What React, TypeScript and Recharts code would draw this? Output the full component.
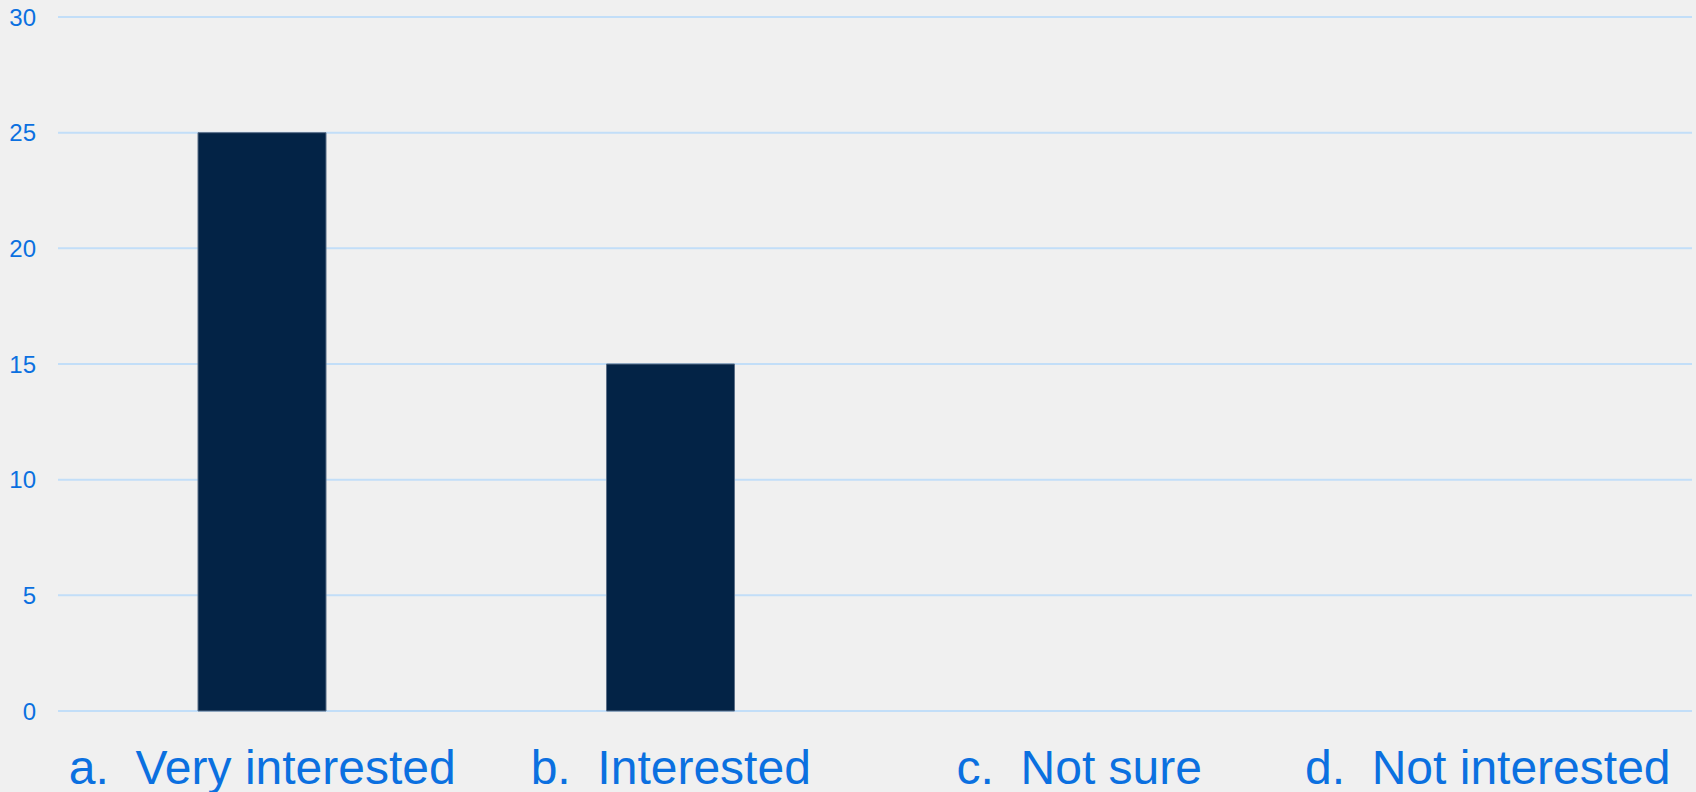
import React from "react";
import { BarChart, Bar, XAxis, YAxis, CartesianGrid } from "recharts";

const categories = [
  "a.\u00A0\u00A0Very interested",
  "b.\u00A0\u00A0Interested",
  "c.\u00A0\u00A0Not sure",
  "d.\u00A0\u00A0Not interested",
];
const responses = [25, 15, 0, 0];
const yTicks = [0, 5, 10, 15, 20, 25, 30];

const data = categories.map((name, i) => ({ name, value: responses[i] }));

const FONT = "'Liberation Sans', Arial, sans-serif";
const TEXT_BLUE = "#0b70e0";

export default function App() {
  return (
    <div
      style={{
        position: "absolute",
        left: 0,
        top: 0,
        width: 1696,
        height: 792,
        background: "#f0f0f0",
        overflow: "hidden",
      }}
    >
      <BarChart
        width={1696}
        height={792}
        data={data}
        margin={{ top: 17, right: 4, left: 0, bottom: 0 }}
        barSize={128}
      >
        <CartesianGrid vertical={false} stroke="#c2def8" strokeWidth={2} />
        <XAxis
          dataKey="name"
          height={81}
          axisLine={false}
          tickLine={false}
          tickSize={0}
          tickMargin={39}
          interval={0}
          tick={{ fill: TEXT_BLUE, fontSize: 48, fontFamily: FONT }}
        />
        <YAxis
          width={58}
          domain={[0, 30]}
          ticks={yTicks}
          axisLine={false}
          tickLine={false}
          tickSize={0}
          tickMargin={22}
          tick={{ fill: TEXT_BLUE, fontSize: 24, fontFamily: FONT }}
        />
        <Bar
          dataKey="value"
          fill="#032346"
          stroke="#5b6e86"
          strokeWidth={1}
          isAnimationActive={false}
        />
      </BarChart>
    </div>
  );
}
